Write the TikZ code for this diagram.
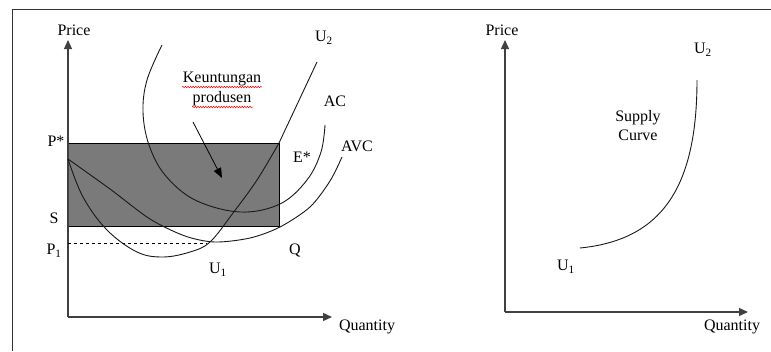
\documentclass[tikz,border=0pt]{standalone}
\usepackage{fontspec}
\setmainfont{Liberation Serif}
\usetikzlibrary{arrows.meta,decorations.pathmorphing}
\begin{document}
\begin{tikzpicture}[x=1pt,y=-1pt,
  lbl/.style={font=\fontsize{16}{18}\selectfont, inner sep=0pt},
  axis/.style={line width=1.3pt, draw=black!75, -{Triangle[length=9pt,width=8pt]}},
  curve/.style={line width=0.9pt, draw=black!90},
  squig/.style={red, line width=0.5pt, decorate, decoration={snake, amplitude=0.8pt, segment length=2.6pt}}]
\useasboundingbox (0,0) rectangle (771,351);
% frame
\draw[line width=1.4pt, black!80] (12.5,351) -- (12.5,9.5) -- (771,9.5);
% left panel
\coordinate (O) at (68,317);
\coordinate (Ytop) at (68,40);
\coordinate (Xend) at (332,317);
\fill[black!52] (68,143) rectangle (279,226);
\draw[line width=0.9pt] (68,143) rectangle (279,226);
\draw[axis] (O) -- (Ytop);
\draw[axis] (O) -- (Xend);
\draw[dashed, line width=0.8pt] (68,243) -- (207,243);
% AC curve
\draw[curve] plot[smooth, tension=0.6] coordinates {(162,45) (147,80) (143,112) (149,145) (165,175) (195,200) (240,212) (280,204) (307,180) (321,152) (325,125)};
% AVC curve
\draw[curve] plot[smooth, tension=0.5] coordinates {(68,159) (110,189) (150,219) (185,236) (215,242) (250,238) (280,227) (310,207) (330,181) (342,157)};
% MC curve U1-U2
\draw[curve] plot[smooth, tension=0.6] coordinates {(68,159) (83,197) (107,230) (137,252) (163,257) (190,252) (210,242) (233,213) (257,180) (279,143)} -- (317,62);
% annotation
\node[lbl] (keu) at (222,79) {Keuntungan};
\node[lbl] (pro) at (222,99) {produsen};
\draw[squig] (182,87) -- (262,87);
\draw[squig] (192,107) -- (253,107);
\coordinate (atail) at (193,122);
\coordinate (ahead) at (222,178);
\draw[line width=0.8pt, -{Triangle[length=10pt,width=8pt]}] (atail) -- (ahead);
% labels
\node[lbl] (price1) at (74,30) {Price};
\node[lbl] (qty1) at (367,327) {Quantity};
\node[lbl] (pstar) at (56,141) {P*};
\node[lbl] (s) at (54,218) {S};
\node[lbl] (p1) at (54,251) {P\textsubscript{1}};
\node[lbl] (u2a) at (324,38) {U\textsubscript{2}};
\node[lbl] (ac) at (335,101) {AC};
\node[lbl] (avc) at (357,146) {AVC};
\node[lbl] (estar) at (302,157) {E*};
\node[lbl] (q) at (295,250) {Q};
\node[lbl] (u1a) at (218,270) {U\textsubscript{1}};
% right panel
\coordinate (O2) at (505,312);
\coordinate (Ytop2) at (505,40);
\coordinate (Xend2) at (748,312);
\draw[axis] (O2) -- (Ytop2);
\draw[axis] (O2) -- (Xend2);
\coordinate (s1) at (580,248);
\coordinate (s2) at (697,80);
\draw[curve] (s1) .. controls (660,240) and (697,190) .. (s2);
\node[lbl] (price2) at (502,30) {Price};
\node[lbl] (qty2) at (732,327) {Quantity};
\node[lbl] (u2b) at (703,50) {U\textsubscript{2}};
\node[lbl] (u1b) at (566,267) {U\textsubscript{1}};
\node[lbl, align=center] (sup) at (638,126) {Supply\\[1pt]Curve};
\end{tikzpicture}
\end{document}
